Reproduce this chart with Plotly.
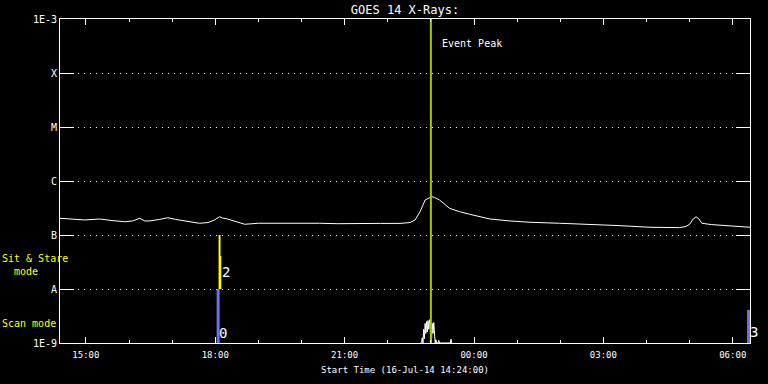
import plotly.graph_objects as go

# ---------------- data ----------------
goes_times = [
    "2014-07-16 14:24", "2014-07-16 14:40", "2014-07-16 14:58", "2014-07-16 15:10",
    "2014-07-16 15:19", "2014-07-16 15:35", "2014-07-16 15:54", "2014-07-16 16:05",
    "2014-07-16 16:15", "2014-07-16 16:22", "2014-07-16 16:29", "2014-07-16 16:42",
    "2014-07-16 16:54", "2014-07-16 17:05", "2014-07-16 17:18", "2014-07-16 17:38",
    "2014-07-16 17:50", "2014-07-16 17:59", "2014-07-16 18:06", "2014-07-16 18:10",
    "2014-07-16 18:17", "2014-07-16 18:30", "2014-07-16 18:41", "2014-07-16 19:00",
    "2014-07-16 19:30", "2014-07-16 20:00", "2014-07-16 20:25", "2014-07-16 20:50",
    "2014-07-16 21:21", "2014-07-16 21:50", "2014-07-16 22:17", "2014-07-16 22:31",
    "2014-07-16 22:38", "2014-07-16 22:45", "2014-07-16 22:52", "2014-07-16 22:59",
    "2014-07-16 23:01", "2014-07-16 23:05", "2014-07-16 23:12", "2014-07-16 23:26",
    "2014-07-16 23:40", "2014-07-16 23:54", "2014-07-17 00:08", "2014-07-17 00:22",
    "2014-07-17 00:50", "2014-07-17 01:18", "2014-07-17 01:59", "2014-07-17 02:41",
    "2014-07-17 03:23", "2014-07-17 04:05", "2014-07-17 04:46", "2014-07-17 04:55",
    "2014-07-17 05:00", "2014-07-17 05:05", "2014-07-17 05:09", "2014-07-17 05:13",
    "2014-07-17 05:17", "2014-07-17 05:30", "2014-07-17 05:42", "2014-07-17 06:00",
    "2014-07-17 06:24",
]
goes_flux = [
    2.04e-7, 1.98e-7, 1.90e-7, 1.94e-7,
    1.98e-7, 1.86e-7, 1.76e-7, 1.82e-7,
    2.04e-7, 1.82e-7, 1.82e-7, 1.94e-7,
    2.09e-7, 1.94e-7, 1.82e-7, 1.65e-7,
    1.70e-7, 1.90e-7, 2.18e-7, 2.06e-7,
    1.98e-7, 1.74e-7, 1.58e-7, 1.65e-7,
    1.65e-7, 1.68e-7, 1.65e-7, 1.62e-7,
    1.65e-7, 1.64e-7, 1.64e-7, 1.70e-7,
    1.90e-7, 2.70e-7, 4.45e-7, 4.99e-7,
    5.12e-7, 4.97e-7, 4.45e-7, 3.12e-7,
    2.70e-7, 2.42e-7, 2.18e-7, 1.98e-7,
    1.82e-7, 1.72e-7, 1.65e-7, 1.58e-7,
    1.49e-7, 1.39e-7, 1.37e-7, 1.44e-7,
    1.58e-7, 1.98e-7, 2.18e-7, 1.98e-7,
    1.65e-7, 1.56e-7, 1.53e-7, 1.44e-7,
    1.39e-7,
]

spike_times = [
    "2014-07-16 22:46", "2014-07-16 22:47", "2014-07-16 22:48", "2014-07-16 22:49",
    "2014-07-16 22:50", "2014-07-16 22:51", "2014-07-16 22:52", "2014-07-16 22:53",
    "2014-07-16 22:54", "2014-07-16 22:55", "2014-07-16 22:56", "2014-07-16 22:57",
    "2014-07-16 22:58", "2014-07-16 22:59", "2014-07-16 23:00", "2014-07-16 23:01",
    "2014-07-16 23:02", "2014-07-16 23:03", "2014-07-16 23:04", "2014-07-16 23:05",
    "2014-07-16 23:06", "2014-07-16 23:07", "2014-07-16 23:08", "2014-07-16 23:10",
    "2014-07-16 23:11", "2014-07-16 23:12", "2014-07-16 23:27", "2014-07-16 23:28",
    "2014-07-16 23:29",
]
spike_flux = [
    1.0e-9, 1.05e-9, 1.25e-9, 1.0e-9,
    1.8e-9, 1.2e-9, 2.3e-9, 1.5e-9,
    2.5e-9, 1.6e-9, 2.6e-9, 1.8e-9,
    2.7e-9, 2.0e-9, 1.0e-9, 1.2e-9,
    2.3e-9, 1.5e-9, 2.4e-9, 1.3e-9,
    1.0e-9, 1.15e-9, 1.0e-9, 1.0e-9,
    1.12e-9, 1.0e-9, 1.0e-9, 1.18e-9,
    1.0e-9,
]

scan_base = 1e-9
scan_times = ["2014-07-16 18:04", "2014-07-17 06:22"]
scan_tops = [1e-8, 4.1e-9]
scan_labels = ["0", "3"]
scan_label_y = [-8.815, -8.796]   # log10 position of labels

stare_base = 1e-8
stare_times = ["2014-07-16 18:06", "2014-07-16 18:07"]
stare_tops = [1e-7, 4.1e-8]
stare_labels = ["2"]
stare_label_y = [-7.685]

event_peak_time = "2014-07-16 23:00"

y_tickvals = [1e-9, 1e-8, 1e-7, 1e-6, 1e-5, 1e-4, 1e-3]
y_ticktext = ["1E-9", "A", "B", "C", "M", "X", "1E-3"]

x_range = ["2014-07-16 14:24", "2014-07-17 06:24"]

# ---------------- figure ----------------
FONT = "DejaVu Sans Mono"


def segs(times, base, tops):
    xs, ys = [], []
    for t, top in zip(times, tops):
        xs += [t, t, None]
        ys += [base, top, None]
    return xs, ys


fig = go.Figure()

fig.add_trace(go.Scatter(x=goes_times, y=goes_flux, mode="lines",
                         line=dict(color="white", width=1), hoverinfo="skip"))
fig.add_trace(go.Scatter(x=spike_times, y=spike_flux, mode="lines",
                         line=dict(color="white", width=1), hoverinfo="skip"))

sx, sy = segs(scan_times, scan_base, scan_tops)
fig.add_trace(go.Scatter(x=sx, y=sy, mode="lines",
                         line=dict(color="#7070f0", width=3), hoverinfo="skip"))
tx, ty = segs(stare_times, stare_base, stare_tops)
fig.add_trace(go.Scatter(x=tx, y=ty, mode="lines",
                         line=dict(color="#ffff00", width=2), hoverinfo="skip"))

fig.add_trace(go.Scatter(x=[event_peak_time, event_peak_time], y=[1e-9, 1e-3],
                         mode="lines", line=dict(color="#9acd00", width=2),
                         hoverinfo="skip"))

annotations = []
annotations.append(dict(x=event_peak_time, y=-3.454, xref="x", yref="y",
                        text="Event Peak", showarrow=False, xanchor="left",
                        yanchor="middle", xshift=9,
                        font=dict(family=FONT, size=10, color="white")))
for t, lab, ly in zip(scan_times, scan_labels, scan_label_y):
    annotations.append(dict(x=t, y=ly, xref="x", yref="y", text=lab,
                            showarrow=False, xanchor="left", yanchor="middle",
                            xshift=-1, font=dict(family=FONT, size=14, color="white")))
for t, lab, ly in zip(stare_times[:1], stare_labels, stare_label_y):
    annotations.append(dict(x=t, y=ly, xref="x", yref="y", text=lab,
                            showarrow=False, xanchor="left", yanchor="middle",
                            xshift=0, font=dict(family=FONT, size=14, color="white")))

# mode labels on left
annotations.append(dict(x=0, y=-7.444, xref="paper", yref="y", text="Sit & Stare",
                        showarrow=False, xanchor="left", yanchor="middle", xshift=-60,
                        font=dict(family=FONT, size=10, color="#ffff00")))
annotations.append(dict(x=0, y=-7.667, xref="paper", yref="y", text="mode",
                        showarrow=False, xanchor="left", yanchor="middle", xshift=-48,
                        font=dict(family=FONT, size=10, color="#ffff00")))
annotations.append(dict(x=0, y=-8.648, xref="paper", yref="y", text="Scan mode",
                        showarrow=False, xanchor="left", yanchor="middle", xshift=-60,
                        font=dict(family=FONT, size=10, color="#ffff00")))

fig.update_layout(
    width=768, height=384,
    margin=dict(l=60, r=18, t=19, b=41),
    paper_bgcolor="black", plot_bgcolor="black",
    showlegend=False,
    title=dict(text="GOES 14 X-Rays:", x=0.5, xref="paper", xanchor="center",
               y=1 - 10 / 384, yref="container", yanchor="middle",
               font=dict(family=FONT, size=12, color="white")),
    annotations=annotations,
    font=dict(family=FONT, color="white"),
)

fig.update_xaxes(
    type="date", range=x_range,
    tick0="2014-07-16 15:00", dtick=3 * 3600 * 1000, tickformat="%H:%M",
    ticks="inside", ticklen=6, tickcolor="white", tickwidth=1,
    showline=True, linecolor="white", linewidth=1, mirror="ticks",
    showgrid=False, zeroline=False,
    minor=dict(dtick=3600 * 1000, ticks="inside", ticklen=3, tickcolor="white",
               showgrid=False),
    ticklabelstandoff=3,
    tickfont=dict(family=FONT, size=9, color="white"),
    title=dict(text="Start Time (16-Jul-14 14:24:00)", standoff=7,
               font=dict(family=FONT, size=9, color="white")),
)

fig.update_yaxes(
    type="log", range=[-9, -3],
    tickvals=y_tickvals, ticktext=y_ticktext,
    ticks="inside", ticklen=14, tickcolor="white", tickwidth=1,
    showline=True, linecolor="white", linewidth=1, mirror="ticks",
    showgrid=True, gridcolor="white", gridwidth=1, griddash="1px,5px",
    zeroline=False,
    tickfont=dict(family=FONT, size=10, color="white"),
)

fig.write_html("out.html")
